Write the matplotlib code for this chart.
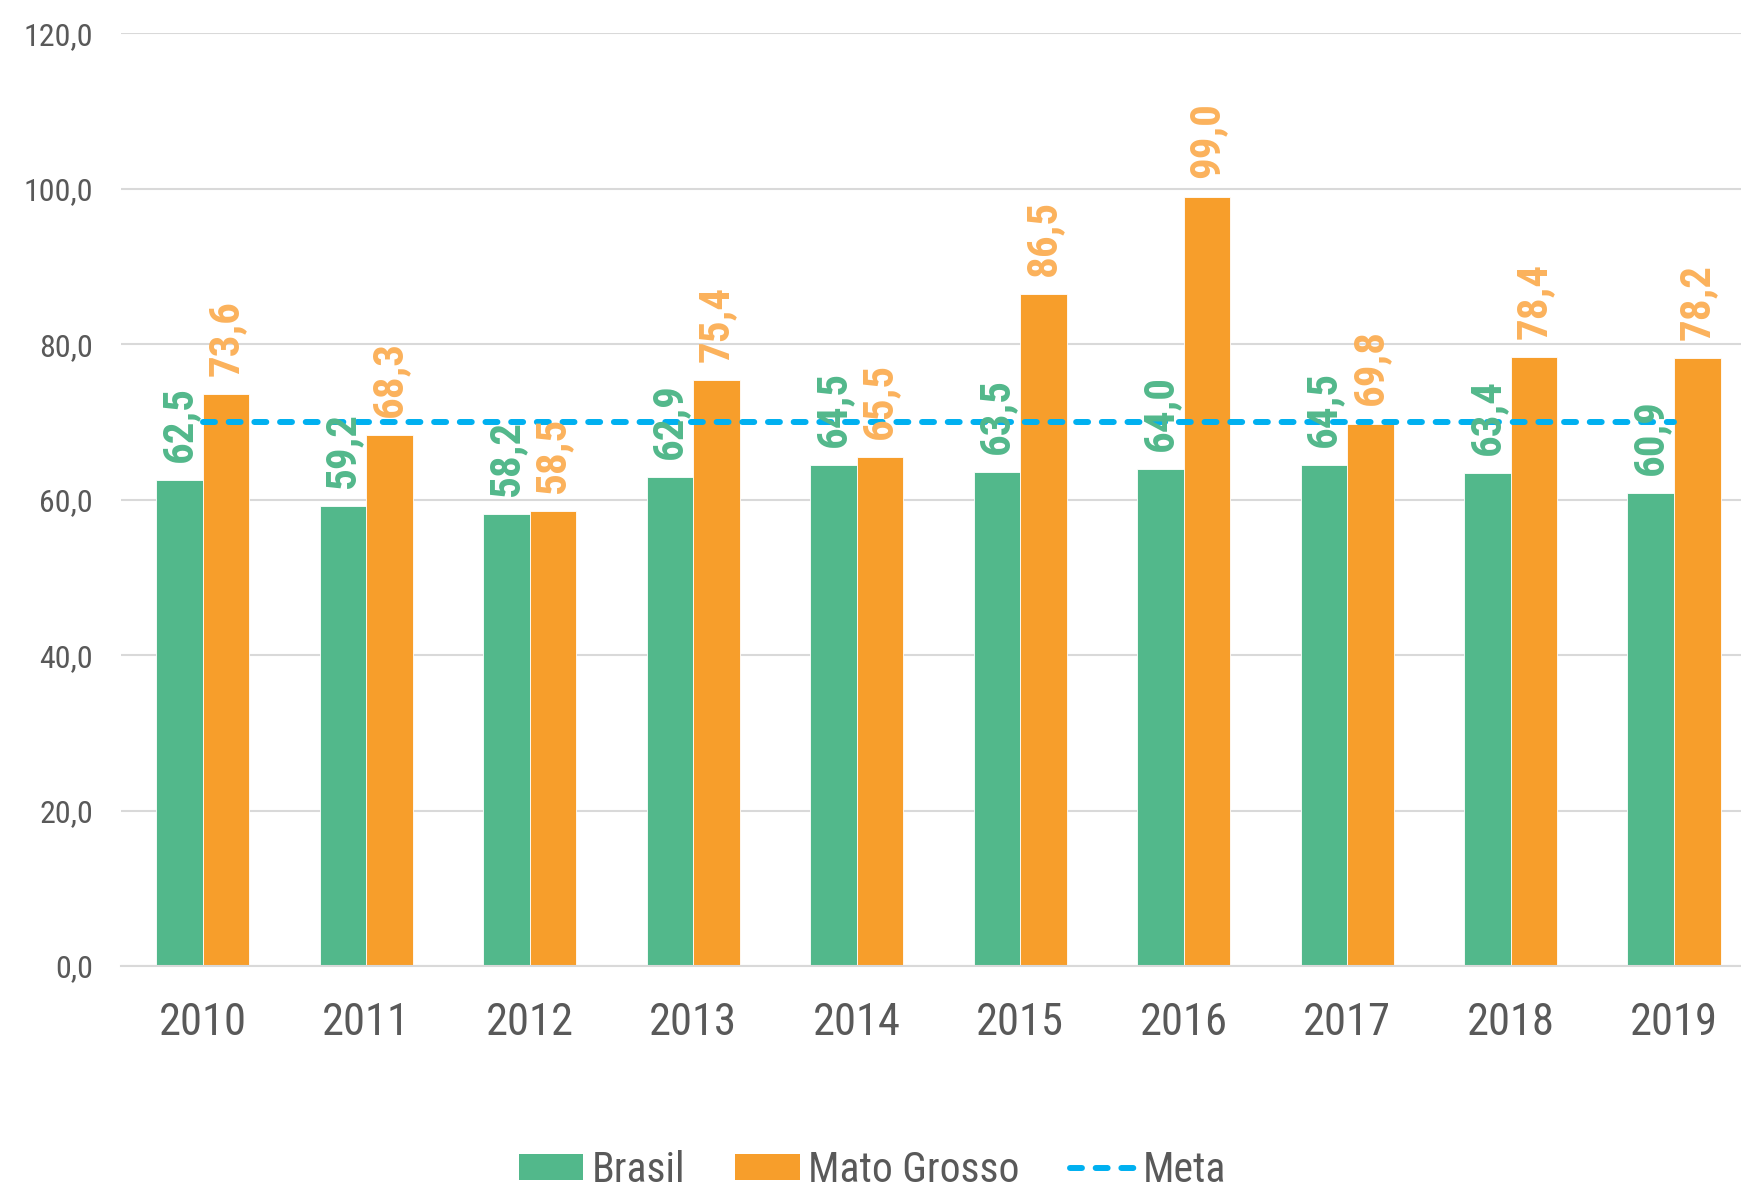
import matplotlib
matplotlib.use("Agg")
import matplotlib.pyplot as plt
from matplotlib import font_manager
from matplotlib.patches import Patch
from matplotlib.lines import Line2D
import numpy as np

years = ["2010", "2011", "2012", "2013", "2014", "2015", "2016", "2017", "2018", "2019"]
brasil = [62.5, 59.2, 58.2, 62.9, 64.5, 63.5, 64.0, 64.5, 63.4, 60.9]
mato_grosso = [73.6, 68.3, 58.5, 75.4, 65.5, 86.5, 99.0, 69.8, 78.4, 78.2]
meta = [70.0] * 10
y_ticks = [0, 20, 40, 60, 80, 100, 120]

names = {f.name for f in font_manager.fontManager.ttflist}
fam = None
for cand in ["Roboto Condensed", "Liberation Sans Narrow", "Roboto"]:
    if cand in names:
        fam = cand
        break
if fam is None:
    fam = "DejaVu Sans"
condensed = fam != "Roboto"
plt.rcParams['font.family'] = [fam, 'DejaVu Sans']

GREEN = "#52B88B"
ORANGE = "#F79E2B"
ORANGE_LBL = "#FBB25C"
BLUE = "#00B0F0"
GRAY = "#595959"
GRID = "#D9D9D9"

fig = plt.figure(figsize=(17.41, 11.90), dpi=100)
ax = fig.add_axes([0.0695, 0.1882, 0.939, 0.7838])

x = np.arange(len(years))
w = 0.285
ax.bar(x - w / 2, brasil, w, color=GREEN, edgecolor="white", linewidth=0.6, zorder=2)
ax.bar(x + w / 2, mato_grosso, w, color=ORANGE, edgecolor="white", linewidth=0.6, zorder=2)
ax.plot(x, meta, color=BLUE, linestyle=(0, (2.0, 2.3)), linewidth=4.3,
        dash_capstyle="round", zorder=3)

lblsize = 31 if condensed else 26
for xi, v in zip(x - w / 2, brasil):
    ax.annotate(f"{v:.1f}".replace(".", ","), (xi, v), xytext=(0, 13),
                textcoords="offset points", rotation=90, ha="center", va="bottom",
                fontsize=lblsize, fontweight="bold", color=GREEN, zorder=4)
for xi, v in zip(x + w / 2, mato_grosso):
    ax.annotate(f"{v:.1f}".replace(".", ","), (xi, v), xytext=(0, 13),
                textcoords="offset points", rotation=90, ha="center", va="bottom",
                fontsize=lblsize, fontweight="bold", color=ORANGE_LBL, zorder=4)

ax.set_ylim(0, 120)
ax.set_xlim(-0.5, len(years) - 0.5)
ax.set_yticks(y_ticks)
ax.set_yticklabels([f"{t:.1f}".replace(".", ",") for t in y_ticks])
ax.set_xticks(x)
ax.set_xticklabels(years)
ax.tick_params(axis="y", length=0, pad=20, labelsize=23 if condensed else 20, labelcolor=GRAY)
ax.tick_params(axis="x", length=0, pad=26, labelsize=32 if condensed else 27, labelcolor=GRAY)
ax.grid(axis="y", color=GRID, linewidth=1.5, zorder=0)
ax.set_axisbelow(True)
for s in ["top", "right", "left"]:
    ax.spines[s].set_visible(False)
ax.spines["bottom"].set_color(GRID)
ax.spines["bottom"].set_linewidth(1.5)

handles = [Patch(facecolor=GREEN, label="Brasil"),
           Patch(facecolor=ORANGE, label="Mato Grosso"),
           Line2D([0], [0], color=BLUE, linestyle=(0, (2.0, 2.3)), linewidth=4.3,
                  dash_capstyle="round", label="Meta")]
fig.legend(handles=handles, loc="center", bbox_to_anchor=(0.501, 0.0165),
           ncol=3, frameon=False, fontsize=30 if condensed else 26,
           handlelength=1.55, handleheight=0.6, handletextpad=0.2,
           columnspacing=1.2, labelcolor=GRAY, borderpad=0.2)

fig.savefig("out.png", dpi=100)
